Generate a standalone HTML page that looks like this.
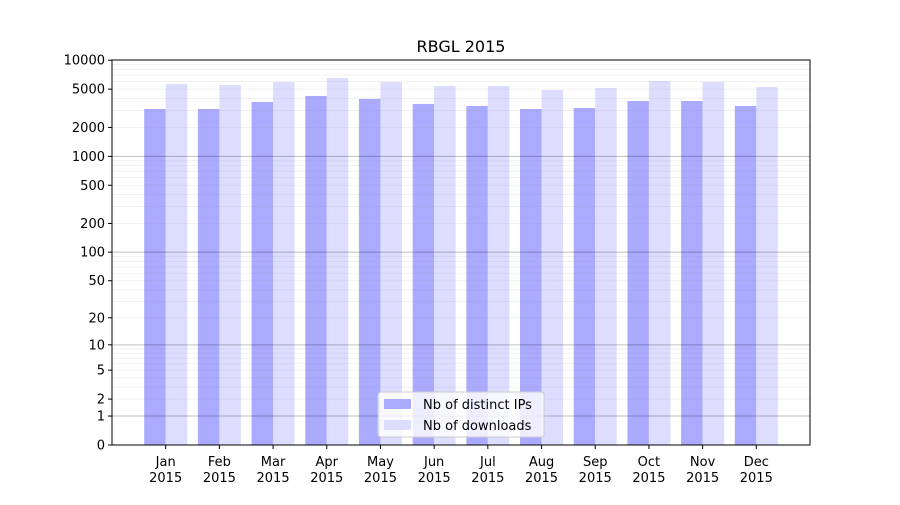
<!DOCTYPE html>
<html><head><meta charset="utf-8"><style>
body{margin:0;background:#fff;font-family:"Liberation Sans","DejaVu Sans",sans-serif;}
svg text{font-family:"DejaVu Sans","Liberation Sans",sans-serif;font-size:13px;fill:#000;}
</style></head><body>
<svg id="chart" width="900" height="500" xmlns="http://www.w3.org/2000/svg">
<rect width="900" height="500" fill="#fff"/>
<g id="bars"></g><g id="grid"></g><g id="axes"></g>
</svg>
<script>
const categories=["Jan","Feb","Mar","Apr","May","Jun","Jul","Aug","Sep","Oct","Nov","Dec"];
const distinctIPs=[3110,3110,3680,4245,3955,3505,3340,3110,3185,3765,3765,3340];
const downloads=[5660,5520,5930,6530,5930,5400,5400,4900,5140,6080,5930,5270];
const yTicks=[0,1,2,5,10,20,50,100,200,500,1000,2000,5000,10000];
const NS="http://www.w3.org/2000/svg";
const L=112,R=810,T=60,B=445,K=96.2;
const y=v=>B-K*Math.log10(1+v);
const step=(R-L)/13;
const x=i=>L+(i+1)*step;
function mk(tag,attrs,parent){const e=document.createElementNS(NS,tag);for(const k in attrs)e.setAttribute(k,attrs[k]);parent.appendChild(e);return e;}
const grid=document.getElementById('grid'),bars=document.getElementById('bars'),axes=document.getElementById('axes');
for(let d=1;d<=1000;d*=10){for(let m=1;m<10;m++){const v=d*m;const yy=y(v);
const g=mk('line',{x1:L,x2:R,y1:yy,y2:yy,stroke:m==1?'#000':'#888','stroke-opacity':m==1?0.25:0.12,'stroke-width':1},grid);
}}
const bw=21.5;
categories.forEach((c,i)=>{
 const a=mk('rect',{x:x(i)-bw,y:y(distinctIPs[i]),width:bw,height:B-y(distinctIPs[i]),fill:'#aaaaff'},bars);
 
 
 const b=mk('rect',{x:x(i),y:y(downloads[i]),width:bw,height:B-y(downloads[i]),fill:'#ddddff'},bars);
 
 
 const t1=mk('text',{x:x(i),y:466,'text-anchor':'middle'},axes);t1.textContent=c;
 
 
 const t2=mk('text',{x:x(i),y:482,'text-anchor':'middle'},axes);t2.textContent='2015';
 
 
 mk('line',{x1:x(i),x2:x(i),y1:B,y2:B+4,stroke:'#000'},axes);
});
yTicks.forEach(v=>{const yy=y(v);
 mk('line',{x1:L-4,x2:L,y1:yy,y2:yy,stroke:'#000'},axes);
 const t=mk('text',{x:L-7,y:yy+4.5,'text-anchor':'end'},axes);t.textContent=v;
 
 
});
const fr=mk('rect',{x:L,y:T,width:R-L,height:B-T,fill:'none',stroke:'#000','stroke-width':1},axes);


const ti=mk('text',{x:461,y:52,'text-anchor':'middle'},axes);ti.textContent='RBGL 2015';ti.style.fontSize='16px';


const lg=mk('g',{},axes);


mk('rect',{x:378,y:392,width:166,height:45,rx:3,fill:'#fff','fill-opacity':0.8,stroke:'#ccc'},lg);
mk('rect',{x:384,y:399,width:27,height:10,fill:'#aaaaff'},lg);
mk('rect',{x:384,y:420,width:27,height:10,fill:'#ddddff'},lg);
const l1=mk('text',{x:423,y:409},lg);l1.textContent='Nb of distinct IPs';


const l2=mk('text',{x:423,y:430},lg);l2.textContent='Nb of downloads';


</script>
</body></html>
